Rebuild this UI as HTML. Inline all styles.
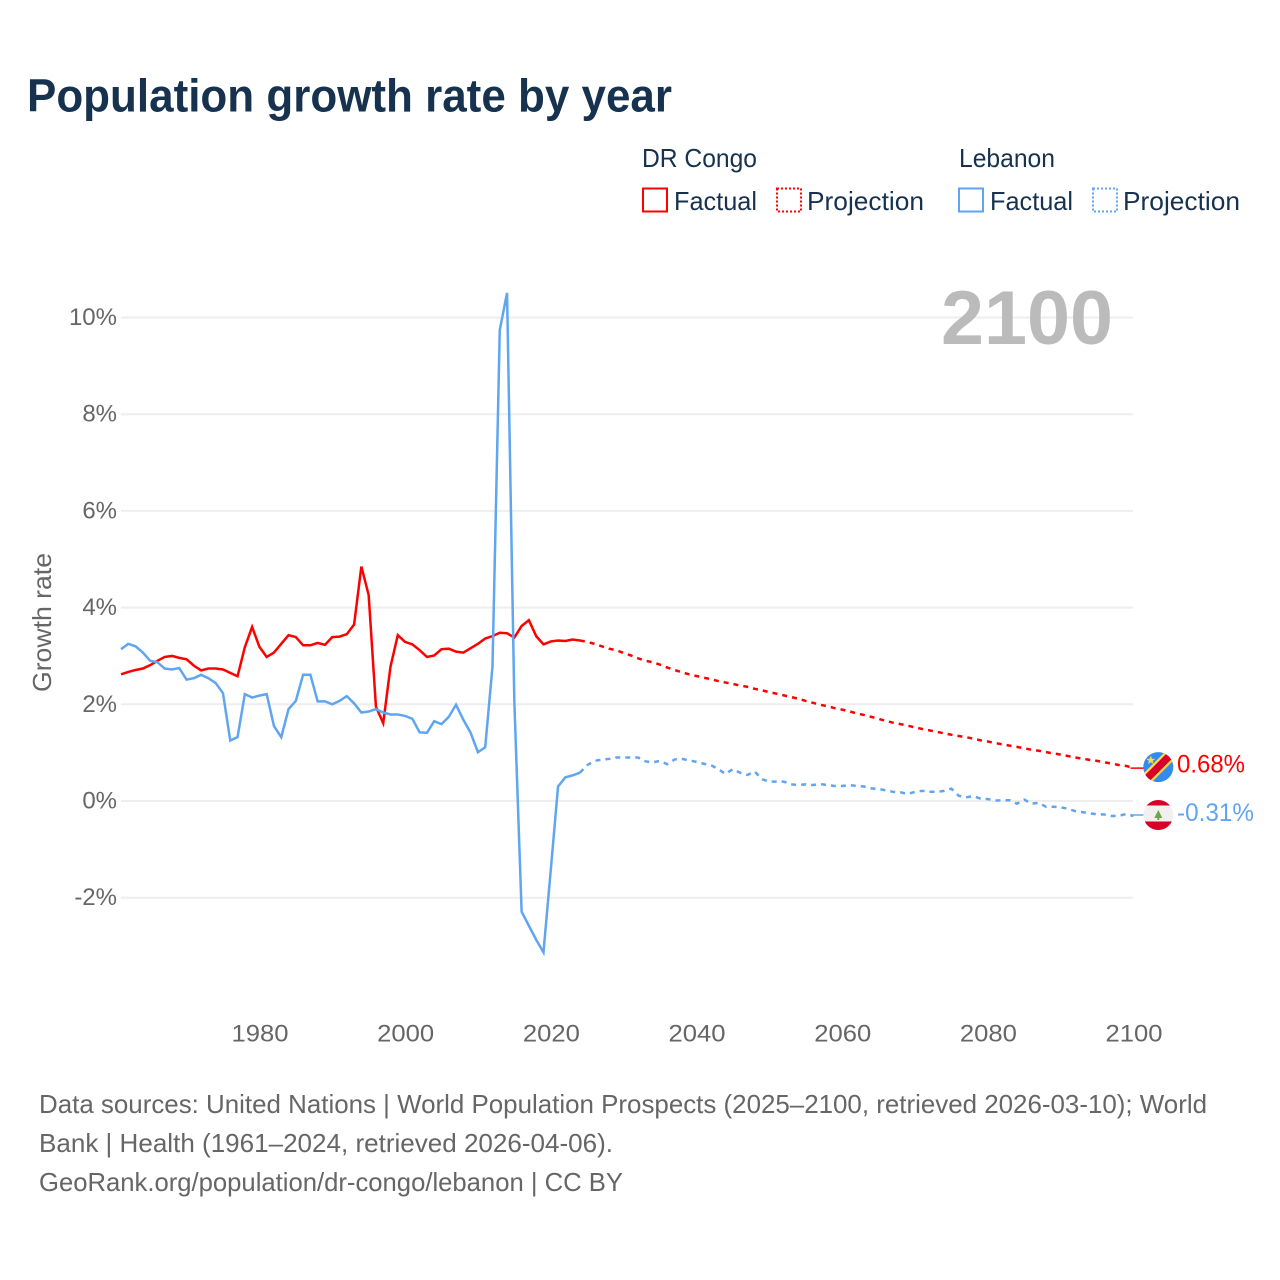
<!DOCTYPE html>
<html lang="en">
<head>
<meta charset="utf-8">
<title>Population growth rate by year</title>
<style>
html,body{margin:0;padding:0;background:#fff;}
svg{display:block;}
text{font-family:"Liberation Sans",sans-serif;}
</style>
</head>
<body>
<svg id="chart" xmlns="http://www.w3.org/2000/svg" width="1280" height="1280" viewBox="0 0 1280 1280">
  <rect width="1280" height="1280" fill="#fff"/>
  <text x="27" y="111.5" font-size="46" font-weight="700" fill="#17324f" textLength="645" lengthAdjust="spacingAndGlyphs">Population growth rate by year</text>

  <g font-size="26" fill="#17324f">
    <text x="642" y="167" textLength="115" lengthAdjust="spacingAndGlyphs">DR Congo</text>
    <text x="959" y="167" textLength="96" lengthAdjust="spacingAndGlyphs">Lebanon</text>
    <rect x="643" y="188.5" width="24" height="23" fill="none" stroke="#ff0000" stroke-width="2"/>
    <text x="674" y="210" textLength="83" lengthAdjust="spacingAndGlyphs">Factual</text>
    <rect x="777" y="188.5" width="24" height="23" fill="none" stroke="#ff0000" stroke-width="2" stroke-dasharray="2 2"/>
    <text x="807" y="210" textLength="117" lengthAdjust="spacingAndGlyphs">Projection</text>
    <rect x="959" y="188.5" width="24" height="23" fill="none" stroke="#60a5f0" stroke-width="2"/>
    <text x="990" y="210" textLength="83" lengthAdjust="spacingAndGlyphs">Factual</text>
    <rect x="1093" y="188.5" width="24" height="23" fill="none" stroke="#60a5f0" stroke-width="2" stroke-dasharray="2 2"/>
    <text x="1123" y="210" textLength="117" lengthAdjust="spacingAndGlyphs">Projection</text>
  </g>

  <g id="grid"></g>
  <g id="yticks" font-size="24" fill="#666" text-anchor="end"></g>
  <g id="xticks" font-size="24" fill="#666" text-anchor="middle"></g>
  <text transform="translate(51,692) rotate(-90)" font-size="26" fill="#666" textLength="139" lengthAdjust="spacingAndGlyphs">Growth rate</text>
  <text x="941" y="344" font-size="76" font-weight="700" fill="#bbbbbb" textLength="172" lengthAdjust="spacingAndGlyphs">2100</text>

  <g id="series"></g>

  <g id="flag-drc">
    <clipPath id="clip-drc"><circle cx="0" cy="0" r="15"/></clipPath>
    <g clip-path="url(#clip-drc)">
      <rect x="-16" y="-16" width="32" height="32" fill="#338af3"/>
      <line x1="-16" y1="16" x2="16" y2="-16" stroke="#ffda44" stroke-width="12"/>
      <line x1="-16" y1="16" x2="16" y2="-16" stroke="#d80027" stroke-width="7.5"/>
    </g>
    <polygon points="-7.5,-11.5 -6.3,-8.4 -3,-8.3 -5.6,-6.3 -4.7,-3.1 -7.5,-4.9 -10.3,-3.1 -9.4,-6.3 -12,-8.3 -8.7,-8.4" fill="#ffda44"/>
  </g>
  <g id="flag-lbn">
    <clipPath id="clip-lbn"><circle cx="0" cy="0" r="15"/></clipPath>
    <g clip-path="url(#clip-lbn)">
      <rect x="-16" y="-16" width="32" height="32" fill="#f0f0f0"/>
      <rect x="-16" y="-16" width="32" height="6.5" fill="#d80027"/>
      <rect x="-16" y="6.5" width="32" height="10" fill="#d80027"/>
      <polygon points="0,-5 4,3 1,3 1,5 -1,5 -1,3 -4,3" fill="#6da544"/>
    </g>
  </g>
  <text id="end-label-drc" x="1177" font-size="25" fill="#ff0000" textLength="68" lengthAdjust="spacingAndGlyphs"></text>
  <text id="end-label-lbn" x="1177" font-size="25" fill="#60a5f0" textLength="77" lengthAdjust="spacingAndGlyphs"></text>

  <g font-size="26" fill="#666">
    <text x="39" y="1113" textLength="1168" lengthAdjust="spacingAndGlyphs">Data sources: United Nations | World Population Prospects (2025–2100, retrieved 2026-03-10); World</text>
    <text x="39" y="1152" textLength="574" lengthAdjust="spacingAndGlyphs">Bank | Health (1961–2024, retrieved 2026-04-06).</text>
    <text x="39" y="1191" textLength="584" lengthAdjust="spacingAndGlyphs">GeoRank.org/population/dr-congo/lebanon | CC BY</text>
  </g>
</svg>
<script>
const yTickValues = [-2, 0, 2, 4, 6, 8, 10];
const xTickValues = [1980, 2000, 2020, 2040, 2060, 2080, 2100];
const factualStartYear = 1961;
const projectionStartYear = 2024;

const drCongoFactual = [2.62,2.67,2.71,2.74,2.81,2.90,2.98,3.00,2.96,2.93,2.80,2.70,2.74,2.74,2.72,2.65,2.58,3.18,3.60,3.19,2.98,3.07,3.25,3.43,3.39,3.22,3.22,3.27,3.23,3.39,3.40,3.45,3.65,4.85,4.26,1.95,1.61,2.78,3.43,3.29,3.24,3.12,2.98,3.01,3.14,3.15,3.09,3.07,3.16,3.25,3.36,3.41,3.48,3.47,3.38,3.62,3.74,3.41,3.24,3.30,3.32,3.31,3.34,3.32];
const drCongoProjection = [3.32,3.29,3.25,3.20,3.15,3.12,3.06,3.01,2.95,2.90,2.87,2.82,2.76,2.71,2.66,2.62,2.585,2.55,2.52,2.48,2.45,2.42,2.39,2.36,2.32,2.29,2.25,2.22,2.185,2.15,2.115,2.07,2.03,1.99,1.96,1.92,1.89,1.855,1.81,1.78,1.74,1.70,1.655,1.62,1.59,1.56,1.52,1.49,1.46,1.43,1.40,1.37,1.345,1.32,1.29,1.255,1.23,1.20,1.17,1.145,1.12,1.09,1.06,1.04,1.01,0.985,0.96,0.93,0.90,0.875,0.85,0.83,0.80,0.775,0.745,0.725,0.68];
const lebanonFactual = [3.14,3.25,3.20,3.07,2.90,2.87,2.74,2.72,2.75,2.51,2.54,2.61,2.54,2.44,2.23,1.25,1.32,2.21,2.14,2.18,2.21,1.55,1.32,1.90,2.07,2.61,2.61,2.06,2.06,2.00,2.07,2.17,2.02,1.83,1.85,1.90,1.83,1.79,1.79,1.76,1.70,1.42,1.41,1.65,1.59,1.74,1.99,1.68,1.41,1.01,1.11,2.78,9.74,10.51,2.05,-2.29,-2.58,-2.87,-3.13,-1.43,0.30,0.49,0.53,0.585];
const lebanonProjection = [0.585,0.74,0.83,0.855,0.87,0.90,0.90,0.90,0.90,0.82,0.80,0.83,0.76,0.86,0.87,0.84,0.81,0.77,0.74,0.66,0.56,0.66,0.585,0.54,0.61,0.45,0.40,0.40,0.40,0.345,0.33,0.345,0.33,0.35,0.33,0.31,0.31,0.33,0.31,0.30,0.26,0.25,0.22,0.19,0.18,0.145,0.19,0.21,0.19,0.19,0.21,0.255,0.11,0.075,0.10,0.05,0.04,0.01,0.015,0.015,-0.055,0.03,-0.055,-0.04,-0.12,-0.12,-0.13,-0.16,-0.21,-0.23,-0.255,-0.275,-0.28,-0.31,-0.305,-0.27,-0.31];
const drCongoEndLabel = "0.68%";
const lebanonEndLabel = "-0.31%";

const SVG_NS = "http://www.w3.org/2000/svg";
function xScale(year) { return 121 + (year - 1961) * 7.284; }
function yScale(v) { return 801 - 48.35 * v; }
function make(tag, attrs, parent) {
  const el = document.createElementNS(SVG_NS, tag);
  for (const k in attrs) el.setAttribute(k, attrs[k]);
  parent.appendChild(el);
  return el;
}
function linePath(values, startYear) {
  return values.map(function (v, i) {
    return (i ? "L" : "M") + xScale(startYear + i).toFixed(2) + " " + yScale(v).toFixed(2);
  }).join(" ");
}

const gridGroup = document.getElementById("grid");
const yTickGroup = document.getElementById("yticks");
yTickValues.forEach(function (v) {
  const line = make("line", {x1: 121, x2: 1133, y1: yScale(v), y2: yScale(v), stroke: "#eeeeee", "stroke-width": 2}, gridGroup);
  
  
  const label = make("text", {x: 117, y: yScale(v) + 7.5}, yTickGroup);
  
  
  label.textContent = v + "%";
});

const xTickGroup = document.getElementById("xticks");
xTickValues.forEach(function (year) {
  const label = make("text", {x: xScale(year) + 0.6, y: 1041.5, textLength: 57, lengthAdjust: "spacingAndGlyphs"}, xTickGroup);
  
  
  label.textContent = String(year);
});

const seriesGroup = document.getElementById("series");
const common = {fill: "none", "stroke-width": 2.5, "stroke-linejoin": "miter"};
function drawSeries(values, startYear, color, dash) {
  const attrs = Object.assign({}, common, {d: linePath(values, startYear), stroke: color});
  if (dash) attrs["stroke-dasharray"] = dash;
  return make("path", attrs, seriesGroup);
}
const redLine = drawSeries(drCongoFactual, factualStartYear, "#ff0000");


const redProjection = drawSeries(drCongoProjection, projectionStartYear, "#ff0000", "5 5");


const blueLine = drawSeries(lebanonFactual, factualStartYear, "#60a5f0");


const blueProjection = drawSeries(lebanonProjection, projectionStartYear, "#60a5f0", "5 5");



const drcEnd = yScale(drCongoProjection[drCongoProjection.length - 1]);
const lbnEnd = yScale(lebanonProjection[lebanonProjection.length - 1]);
const redLeader = make("line", {x1: xScale(2100) - 3, x2: 1144, y1: drcEnd, y2: drcEnd, stroke: "#ff0000", "stroke-width": 1.5}, seriesGroup);


const blueLeader = make("line", {x1: xScale(2100) - 3, x2: 1144, y1: lbnEnd - 1, y2: lbnEnd - 1, stroke: "#60a5f0", "stroke-width": 1.5}, seriesGroup);



const drcY = drcEnd - 1;
const lbnY = lbnEnd - 1;
document.getElementById("flag-drc").setAttribute("transform", "translate(1158.3," + drcY + ")");
document.getElementById("flag-lbn").setAttribute("transform", "translate(1158.3," + lbnY + ")");
const drcLabel = document.getElementById("end-label-drc");
drcLabel.setAttribute("y", drcY + 5.5);
drcLabel.textContent = drCongoEndLabel;
const lbnLabel = document.getElementById("end-label-lbn");
lbnLabel.setAttribute("y", lbnY + 6);
lbnLabel.textContent = lebanonEndLabel;
</script>
</body>
</html>
